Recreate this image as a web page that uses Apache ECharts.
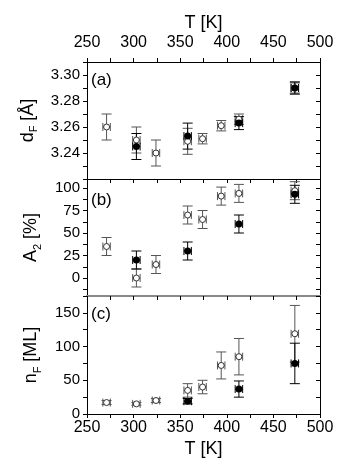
<!DOCTYPE html>
<html>
<head>
<meta charset="utf-8">
<script src="https://cdn.jsdelivr.net/npm/echarts@6/dist/echarts.min.js"></script>
<style>
html, body { margin: 0; padding: 0; background: #fff; }
#chart { width: 353px; height: 466px; }
</style>
</head>
<body>
<div id="chart"></div>
<script>
// temperatures [K]
var tOpen = [271, 303, 324, 358, 374, 394, 413, 473];
var tFilledAB = [303, 358, 413, 473];
var tFilledC = [358, 413, 473];
var tErr = 4;

// (a) d_F [A]
var dOpen = [3.260, 3.250, 3.240, 3.249, 3.251, 3.261, 3.266, 3.290];
var dOpenErr = [0.010, 0.010, 0.010, 0.010, 0.004, 0.004, 0.004, 0.005];
var dFilled = [3.245, 3.253, 3.263, 3.290];
var dFilledErr = [0.010, 0.010, 0.005, 0.004];

// (b) A_2 [%]
var aOpen = [35, 0, 15, 70, 65, 91, 94, 97];
var aOpenErr = [10, 10, 10, 10, 10, 10, 10, 10];
var aFilled = [20, 30, 60, 93];
var aFilledErr = [10, 10, 10, 10];

// (c) n_F [ML]
var nOpen = [17, 15, 20, 35, 40, 72, 85, 119];
var nOpenErr = [3, 2, 3, 10, 10, 20, 27, 42];
var nFilled = [19, 37, 75];
var nFilledErr = [4, 12, 30];

// tick labels
var tLabels = [250, 300, 350, 400, 450, 500];
var dLabels = [3.24, 3.26, 3.28, 3.30];
var aLabels = [0, 25, 50, 75, 100];
var aTicks = [-12.5, 0, 12.5, 25, 37.5, 50, 62.5, 75, 87.5, 100];
var nLabels = [0, 50, 100, 150];

var FONT = 'Liberation Sans, Arial, sans-serif';

function pts(t, v, e) {
  return t.map(function (x, i) { return [x, v[i], e[i], tErr]; });
}

function errItem(color) {
  return function (params, api) {
    var x = api.value(0), y = api.value(1), e = api.value(2), xe = api.value(3);
    var c = api.coord([x, y]);
    var top = api.coord([x, y + e])[1], bot = api.coord([x, y - e])[1];
    var l = api.coord([x - xe, y])[0], r = api.coord([x + xe, y])[0];
    var cw = 5, ch = 4;
    var segs = [
      [c[0], top, c[0], bot],
      [c[0] - cw, top, c[0] + cw, top],
      [c[0] - cw, bot, c[0] + cw, bot],
      [l, c[1], r, c[1]],
      [l, c[1] - ch, l, c[1] + ch],
      [r, c[1] - ch, r, c[1] + ch]
    ];
    return {
      type: 'group',
      children: segs.map(function (s) {
        return { type: 'line', shape: { x1: s[0], y1: s[1], x2: s[2], y2: s[3] },
          style: { stroke: color, lineWidth: 1 } };
      })
    };
  };
}

function errSeries(data, color, xi, yi) {
  return { type: 'custom', xAxisIndex: xi, yAxisIndex: yi, clip: false,
    renderItem: errItem(color), data: data, z: 2 };
}
function openSeries(t, v, xi, yi) {
  return { type: 'scatter', xAxisIndex: xi, yAxisIndex: yi, symbol: 'circle', symbolSize: 6,
    itemStyle: { color: '#fff', borderColor: '#333', borderWidth: 1, opacity: 1 },
    data: t.map(function (x, i) { return [x, v[i]]; }), z: 3 };
}
function filledSeries(t, v, xi, yi) {
  return { type: 'scatter', xAxisIndex: xi, yAxisIndex: yi, symbol: 'circle', symbolSize: 7,
    itemStyle: { color: '#000', opacity: 1 },
    data: t.map(function (x, i) { return [x, v[i]]; }), z: 4 };
}

function xAx(grid, pos, labels, name, lineColor, lineWidth) {
  return {
    type: 'value', gridIndex: grid, position: pos, min: 250, max: 500, interval: 25,
    name: name || '', nameLocation: 'middle', nameGap: pos === 'top' ? 30 : 26,
    nameTextStyle: { fontFamily: FONT, fontSize: 18, color: '#000' },
    axisLine: { show: true, onZero: false, lineStyle: { color: lineColor || '#000', width: lineWidth || 1 } },
    axisTick: { show: true, inside: false, length: 4, lineStyle: { color: '#000' } },
    axisLabel: { show: !!labels, margin: pos === 'top' ? 11 : 6, fontFamily: FONT, fontSize: 16, color: '#000',
      formatter: function (v) { return tLabels.indexOf(v) >= 0 ? String(v) : ''; } },
    splitLine: { show: false }
  };
}

function yRich(main, sub, rest) {
  return '{n|' + main + '}{s|' + sub + '}{n|' + rest + '}';
}
var richStyle = {
  n: { fontFamily: FONT, fontSize: 18, color: '#000', lineHeight: 24 },
  s: { fontFamily: FONT, fontSize: 11, color: '#000', lineHeight: 11, verticalAlign: 'bottom' }
};

function yLeft(grid, min, max, opts) {
  var ax = {
    type: 'value', gridIndex: grid, position: 'left', min: min, max: max,
    name: opts.name, nameLocation: 'middle', nameGap: 44, nameRotate: 90,
    nameTextStyle: { rich: richStyle },
    axisLine: { show: true, onZero: false, lineStyle: { color: '#000' } },
    axisTick: { show: true, inside: false, length: 4, lineStyle: { color: '#000' } },
    axisLabel: { show: true, margin: 7, fontFamily: FONT, fontSize: 15, color: '#000' },
    splitLine: { show: false }
  };
  if (opts.interval) ax.interval = opts.interval;
  if (opts.formatter) ax.axisLabel.formatter = opts.formatter;
  if (opts.ticks) ax.axisTick.customValues = opts.ticks;
  if (opts.labels) ax.axisLabel.customValues = opts.labels;
  return ax;
}
function yRight(grid, min, max, opts) {
  var ax = {
    type: 'value', gridIndex: grid, position: 'right', min: min, max: max,
    axisLine: { show: true, onZero: false, lineStyle: { color: '#000' } },
    axisTick: { show: true, inside: true, length: 4, lineStyle: { color: '#000' } },
    axisLabel: { show: false },
    splitLine: { show: false }
  };
  if (opts.interval) ax.interval = opts.interval;
  if (opts.ticks) ax.axisTick.customValues = opts.ticks;
  return ax;
}

var chart = echarts.init(document.getElementById('chart'));
chart.setOption({
  animation: false,
  backgroundColor: '#fff',
  grid: [
    { left: 87, width: 233, top: 62, height: 117 },
    { left: 87, width: 233, top: 179, height: 117 },
    { left: 87, width: 233, top: 296, height: 118 }
  ],
  xAxis: [
    xAx(0, 'bottom', false),
    xAx(0, 'top', true, 'T [K]'),
    xAx(1, 'bottom', false, '', '#888', 2),
    xAx(2, 'bottom', true, 'T [K]')
  ],
  yAxis: [
    yLeft(0, 3.22, 3.31, { interval: 0.01, name: yRich('d', 'F', ' [Å]'),
      formatter: function (v) {
        var k = Math.round(v * 100);
        return dLabels.indexOf(k / 100) >= 0 ? (k / 100).toFixed(2) : '';
      } }),
    yRight(0, 3.22, 3.31, { interval: 0.01 }),
    yLeft(1, -20, 110, { name: yRich('A', '2', ' [%]'), ticks: aTicks, labels: aLabels }),
    yRight(1, -20, 110, { ticks: aTicks }),
    yLeft(2, 0, 175, { interval: 25, name: yRich('n', 'F', ' [ML]'),
      formatter: function (v) { return nLabels.indexOf(v) >= 0 ? String(v) : ''; } }),
    yRight(2, 0, 175, { interval: 25 })
  ],
  graphic: [
    { type: 'text', left: 91, top: 72, style: { text: '(a)', font: '17px ' + FONT, fill: '#000' } },
    { type: 'text', left: 91, top: 192, style: { text: '(b)', font: '17px ' + FONT, fill: '#000' } },
    { type: 'text', left: 91, top: 306, style: { text: '(c)', font: '17px ' + FONT, fill: '#000' } }
  ],
  series: [
    errSeries(pts(tOpen, dOpen, dOpenErr), '#555', 0, 0),
    errSeries(pts(tFilledAB, dFilled, dFilledErr), '#000', 0, 0),
    openSeries(tOpen, dOpen, 0, 0),
    filledSeries(tFilledAB, dFilled, 0, 0),

    errSeries(pts(tOpen, aOpen, aOpenErr), '#555', 2, 2),
    errSeries(pts(tFilledAB, aFilled, aFilledErr), '#000', 2, 2),
    openSeries(tOpen, aOpen, 2, 2),
    filledSeries(tFilledAB, aFilled, 2, 2),

    errSeries(pts(tOpen, nOpen, nOpenErr), '#555', 3, 4),
    errSeries(pts(tFilledC, nFilled, nFilledErr), '#000', 3, 4),
    openSeries(tOpen, nOpen, 3, 4),
    filledSeries(tFilledC, nFilled, 3, 4)
  ]
});
</script>
</body>
</html>
